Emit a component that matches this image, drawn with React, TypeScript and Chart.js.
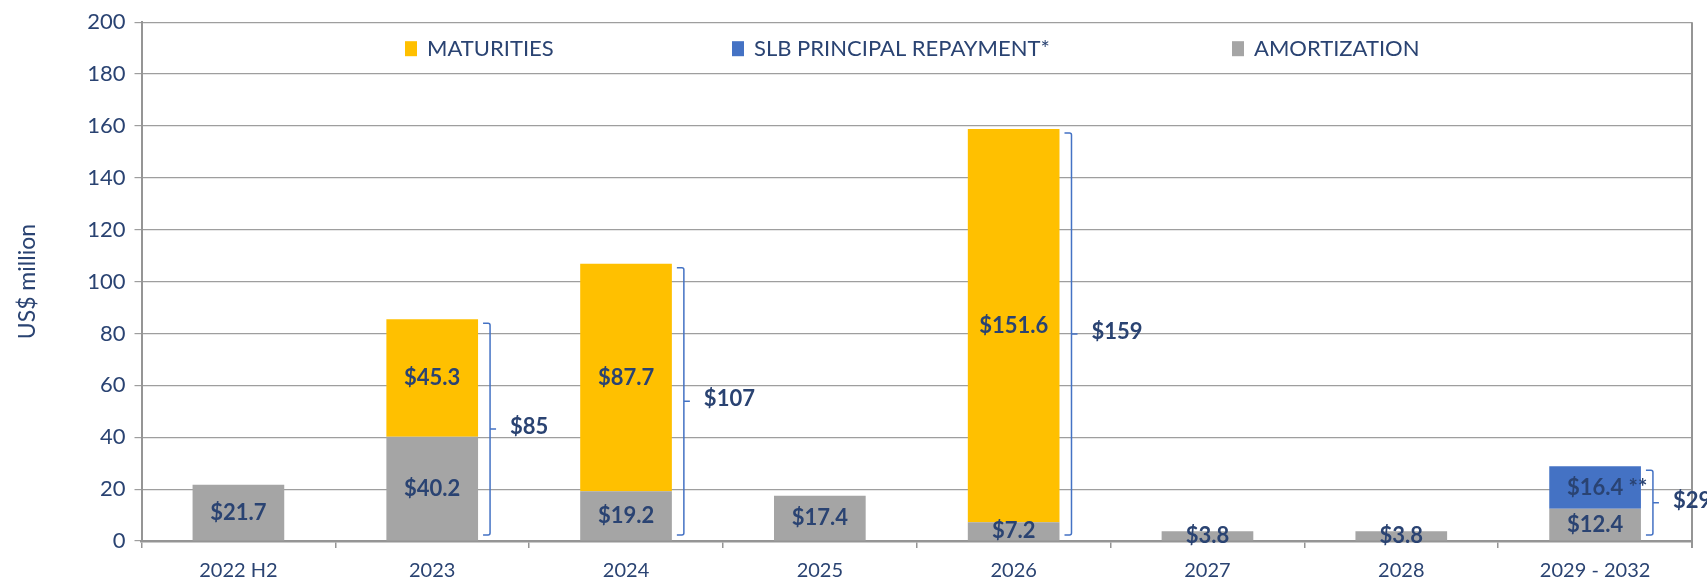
import React, { useEffect, useRef } from 'react';
import { Chart, registerables } from 'chart.js';

Chart.register(...registerables);

// ---------- data ----------
const categories = ['2022 H2', '2023', '2024', '2025', '2026', '2027', '2028', '2029 - 2032'];
const amortization = [21.7, 40.2, 19.2, 17.4, 7.2, 3.8, 3.8, 12.4];
const maturities = [null, 45.3, 87.7, null, 151.6, null, null, null];
const slbRepayment = [null, null, null, null, null, null, null, 16.4];
const totalLabels = [null, 85, 107, null, 159, null, null, 29];
const legendLabels = ['MATURITIES', 'SLB PRINCIPAL REPAYMENT*', 'AMORTIZATION'];
const slbNote = '**';
const yMin = 0;
const yMax = 200;
const yStep = 20;
const yTitle = 'US$ million';

// ---------- style ----------
const NAVY = '#2A4372';
const FONT = 'Lato';
const GRID = '#9E9E9E';
const AXIS = '#959595';
const C_AMORT = '#A5A5A5';
const C_MAT = '#FFC000';
const C_SLB = '#4472C4';

const legendColors = [C_MAT, C_SLB, C_AMORT];
const legendBoxX = [405, 732, 1232];

const overlayPlugin = {
  id: 'overlay',
  beforeDraw(chart: any) {
    const ctx = chart.ctx;
    ctx.save();
    ctx.fillStyle = '#FFFFFF';
    ctx.fillRect(0, 0, chart.width, chart.height);
    ctx.restore();
  },
  afterDatasetsDraw(chart: any) {
    const ctx = chart.ctx;
    const { top, right, bottom } = chart.chartArea;
    const yScale = chart.scales.y;
    ctx.save();

    // right border of plot
    ctx.strokeStyle = AXIS;
    ctx.lineWidth = 2;
    ctx.beginPath();
    ctx.moveTo(right, top);
    ctx.lineTo(right, bottom + 7);
    ctx.stroke();

    // legend
    ctx.font = `22px ${FONT}`;
    ctx.textAlign = 'left';
    ctx.textBaseline = 'middle';
    const ly = top + 26;
    legendLabels.forEach((lab, i) => {
      ctx.fillStyle = legendColors[i];
      ctx.fillRect(legendBoxX[i], ly - 7, 12, 15);
      ctx.fillStyle = NAVY;
      ctx.fillText(lab, legendBoxX[i] + 22, ly + 1);
    });

    // data labels
    ctx.font = `bold 22px ${FONT}`;
    ctx.fillStyle = NAVY;
    ctx.textBaseline = 'middle';
    chart.data.datasets.forEach((ds: any, di: number) => {
      const meta = chart.getDatasetMeta(di);
      meta.data.forEach((el: any, i: number) => {
        const v = ds.data[i];
        if (v == null) return;
        const y = (el.y + el.base) / 2;
        const text = '$' + v.toFixed(1);
        ctx.textAlign = 'center';
        ctx.fillText(text, el.x, y);
        if (ds.note) {
          const w = ctx.measureText(text).width;
          ctx.textAlign = 'left';
          ctx.fillText(' ' + ds.note, el.x + w / 2, y);
        }
      });
    });

    // brackets with totals
    totalLabels.forEach((t, i) => {
      if (t == null) return;
      let sum = 0;
      chart.data.datasets.forEach((ds: any) => {
        sum += ds.data[i] ?? 0;
      });
      const el = chart.getDatasetMeta(0).data[i];
      const bx = el.x + el.width / 2 + 12;
      const yTop = yScale.getPixelForValue(sum) + 4;
      const yBot = yScale.getPixelForValue(0) - 6;
      const yMid = (yTop + yBot) / 2;
      ctx.strokeStyle = C_SLB;
      ctx.lineWidth = 1.5;
      ctx.beginPath();
      ctx.moveTo(bx - 7, yTop);
      ctx.lineTo(bx - 2, yTop);
      ctx.quadraticCurveTo(bx, yTop, bx, yTop + 2);
      ctx.lineTo(bx, yBot - 2);
      ctx.quadraticCurveTo(bx, yBot, bx - 2, yBot);
      ctx.lineTo(bx - 7, yBot);
      ctx.moveTo(bx, yMid);
      ctx.lineTo(bx + 6, yMid);
      ctx.stroke();
      ctx.fillStyle = NAVY;
      ctx.textAlign = 'left';
      ctx.fillText('$' + t, bx + 20, yMid - 2);
    });

    ctx.restore();
  },
};

export default function App() {
  const canvasRef = useRef<HTMLCanvasElement | null>(null);

  useEffect(() => {
    if (!canvasRef.current) return;
    const chart = new Chart(canvasRef.current, {
      type: 'bar',
      data: {
        labels: categories,
        datasets: [
          { label: 'AMORTIZATION', data: amortization, backgroundColor: C_AMORT } as any,
          { label: 'MATURITIES', data: maturities, backgroundColor: C_MAT } as any,
          { label: 'SLB PRINCIPAL REPAYMENT*', data: slbRepayment, backgroundColor: C_SLB, note: slbNote } as any,
        ],
      },
      options: {
        animation: false,
        responsive: true,
        maintainAspectRatio: false,
        layout: { padding: { left: 0, top: 15, right: 15, bottom: 0 } },
        datasets: { bar: { categoryPercentage: 1, barPercentage: 0.473 } },
        plugins: { legend: { display: false }, tooltip: { enabled: false } },
        scales: {
          x: {
            stacked: true,
            grid: {
              offset: true,
              drawOnChartArea: false,
              drawTicks: true,
              tickLength: 7,
              color: AXIS,
              lineWidth: 1.5,
            },
            border: { display: true, color: AXIS, width: 2.5 },
            ticks: { color: NAVY, font: { family: FONT, size: 20 }, padding: 11, maxRotation: 0 },
            afterFit: (s: any) => {
              s.height = 41;
            },
          },
          y: {
            stacked: true,
            min: yMin,
            max: yMax,
            grid: { color: GRID, lineWidth: 1.2, drawTicks: true, tickLength: 7 },
            border: { display: true, color: AXIS, width: 2 },
            ticks: { stepSize: yStep, color: NAVY, font: { family: FONT, size: 22 }, padding: 9 },
            title: {
              display: true,
              text: yTitle,
              color: NAVY,
              font: { family: FONT, size: 23 },
              padding: { top: 14, bottom: 0 },
            },
            afterFit: (s: any) => {
              s.width = 141.5;
            },
          },
        },
      } as any,
      plugins: [overlayPlugin],
    });
    return () => chart.destroy();
  }, []);

  return (
    <div style={{ position: 'fixed', left: 0, top: 0, width: '1707px', height: '582px', background: '#fff' }}>
      <canvas ref={canvasRef} />
    </div>
  );
}
